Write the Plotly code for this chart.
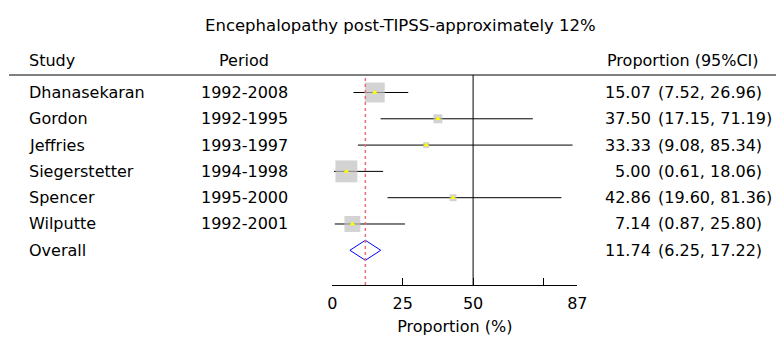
import plotly.graph_objects as go
import math

title_text = "Encephalopathy post-TIPSS-approximately 12%"
studies = ["Dhanasekaran", "Gordon", "Jeffries", "Siegerstetter", "Spencer", "Wilputte"]
periods = ["1992-2008", "1992-1995", "1993-1997", "1994-1998", "1995-2000", "1992-2001"]
estimates = [15.07, 37.50, 33.33, 5.00, 42.86, 7.14]
ci_low = [7.52, 17.15, 9.08, 0.61, 19.60, 0.87]
ci_high = [26.96, 71.19, 85.34, 18.06, 81.36, 25.80]
weights = [30.6, 6.2, 2.8, 37.1, 3.8, 19.6]
overall_label = "Overall"
overall_est = 11.74
overall_low = 6.25
overall_high = 17.22
null_value = 50
tick_vals = [0, 25, 50, 75, 87]
tick_text = ["0", "25", "50", "", "87"]
headers = ["Study", "Period", "Proportion (95%CI)"]
x_title = "Proportion (%)"

W, H = 784, 338
OX, OY = 8, 8  # page body margin
FONT = "DejaVu Sans"
FS = 16

def px(x):
    return (x - OX) / W

rows = list(range(len(studies)))
overall_row = len(studies)

fig = go.Figure()

fig.add_trace(go.Scatter(
    x=estimates, y=rows, mode="markers",
    marker=dict(symbol="square", size=[36 * math.sqrt(w / 100) for w in weights],
                color="#c0c0c0", line=dict(width=0)),
    error_x=dict(type="data", symmetric=False,
                 array=[h - e for h, e in zip(ci_high, estimates)],
                 arrayminus=[e - l for e, l in zip(estimates, ci_low)],
                 thickness=1, width=0, color="black"),
    cliponaxis=False, showlegend=False, hoverinfo="skip"))

fig.add_trace(go.Scatter(
    x=estimates, y=rows, mode="markers",
    marker=dict(symbol="triangle-up", size=5, color="#ffff00", line=dict(width=0)),
    cliponaxis=False, showlegend=False, hoverinfo="skip"))

h = 0.38
fig.add_trace(go.Scatter(
    x=[overall_low, overall_est, overall_high, overall_est, overall_low],
    y=[overall_row, overall_row - h, overall_row, overall_row + h, overall_row],
    mode="lines", line=dict(color="#0000ff", width=1),
    cliponaxis=False, showlegend=False, hoverinfo="skip"))

shapes = [
    dict(type="line", xref="paper", yref="paper", x0=px(9), x1=1, y0=1, y1=1,
         line=dict(color="black", width=1)),
    dict(type="line", xref="x", yref="paper", x0=null_value, x1=null_value, y0=0, y1=1,
         line=dict(color="black", width=1)),
    dict(type="line", xref="x", yref="paper", x0=overall_est, x1=overall_est, y0=0, y1=1,
         line=dict(color="rgb(232,110,120)", width=1.5, dash="3px,3px")),
]

annotations = []
def ann(text, x, y, xanchor="left", yref="y", size=FS):
    annotations.append(dict(text=text, x=x, y=y, xref="paper", yref=yref,
                            xanchor=xanchor, yanchor="middle", showarrow=False,
                            font=dict(family=FONT, size=size, color="black")))

hy = 1 + 15 / 210
ann(headers[0], px(27), hy, yref="paper")
ann(headers[1], px(217), hy, yref="paper")
ann(headers[2], px(605), hy, yref="paper")
ann(title_text, px(400), 1 + 49 / 210, xanchor="center", yref="paper", size=16.5)

for i, (s, p, e, l, hi) in enumerate(zip(studies, periods, estimates, ci_low, ci_high)):
    ann(s, px(27), i)
    ann(p, px(199), i)
    ann(f"{e:.2f}", px(653), i, xanchor="right")
    ann(f"({l:.2f}, {hi:.2f})", px(656), i)
ann(overall_label, px(27), overall_row)
ann(f"{overall_est:.2f}", px(653), overall_row, xanchor="right")
ann(f"({overall_low:.2f}, {overall_high:.2f})", px(656), overall_row)

fig.update_layout(
    width=W, height=H,
    margin=dict(l=0, r=0, t=75 - OY, b=H - (285 - OY), pad=0, autoexpand=False),
    plot_bgcolor="white", paper_bgcolor="white",
    font=dict(family=FONT, size=FS, color="black"),
    shapes=shapes, annotations=annotations,
    xaxis=dict(domain=[px(332.3), px(577.3)], range=[0, 87], automargin=False,
               showgrid=False, zeroline=False, showline=True,
               linecolor="black", linewidth=1,
               ticks="inside", ticklen=7, tickcolor="black", tickwidth=1,
               tickvals=tick_vals, ticktext=tick_text, ticklabelstandoff=4,
               tickfont=dict(family=FONT, size=FS, color="black"),
               title=dict(text=x_title, font=dict(family=FONT, size=FS, color="black"), standoff=8)),
    yaxis=dict(range=[7.32, -0.665], visible=False, showgrid=False, zeroline=False,
               automargin=False),
    showlegend=False,
)

fig.write_html("out.html")
